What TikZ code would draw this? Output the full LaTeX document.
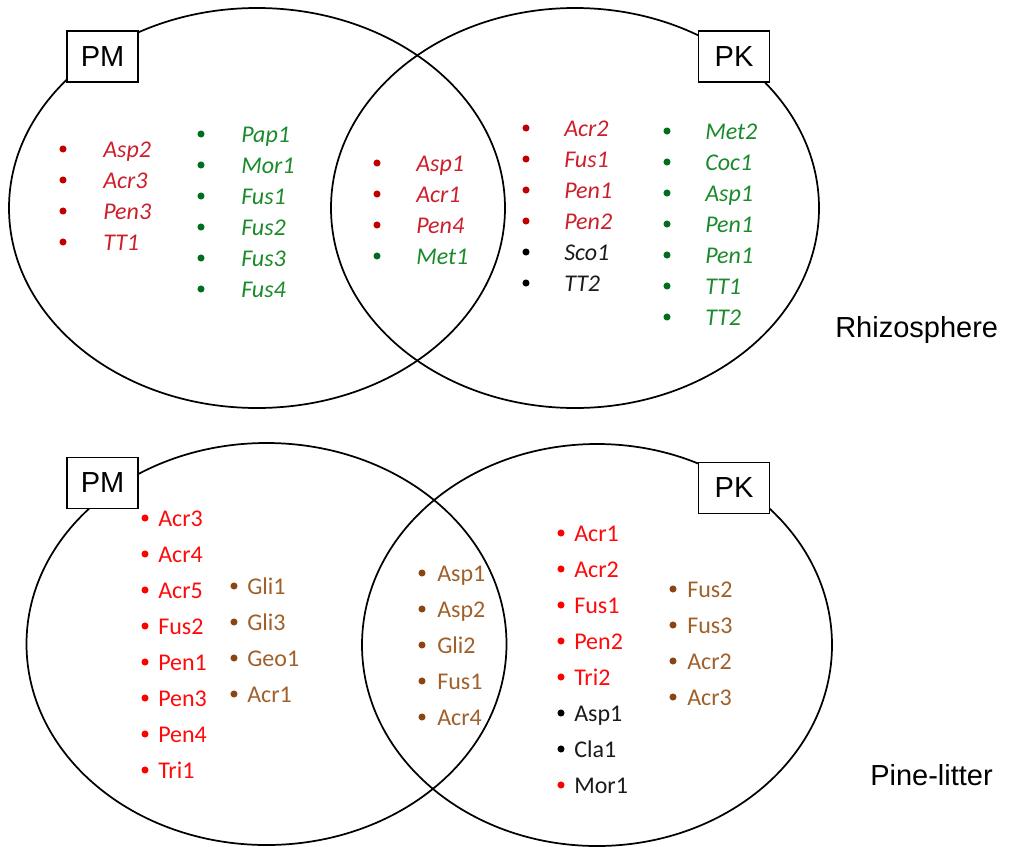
\documentclass[tikz,border=0pt]{standalone}
\usepackage{fontspec}
\setmainfont{Liberation Sans}
\newfontfamily\itemfont{Carlito}
\definecolor{rAd}{HTML}{C00000}
\definecolor{rAt}{HTML}{CC1F2C}
\definecolor{gAd}{HTML}{006E1E}
\definecolor{gAt}{HTML}{1A8A2A}
\definecolor{kd}{HTML}{000000}
\definecolor{kt}{HTML}{1A1A1A}
\definecolor{rBd}{HTML}{FF0000}
\definecolor{rBt}{HTML}{FF0A0A}
\definecolor{bBd}{HTML}{8B4513}
\definecolor{bBt}{HTML}{A0602A}
\begin{document}
\begin{tikzpicture}[x=0.75pt,y=-0.75pt,
  venn/.style={draw=black,line width=1.3pt},
  tag/.style={draw=black,fill=white,line width=1.3pt,minimum width=53.25pt,minimum height=38.25pt,inner sep=0pt,font=\fontsize{21.75}{24}\selectfont},
  dot/.style={circle,inner sep=0pt,minimum size=5.3pt},
  itm/.style={anchor=base west,inner sep=0pt,font=\itemfont\fontsize{18}{20}\selectfont},
  itI/.style={anchor=base west,inner sep=0pt,font=\itemfont\itshape\fontsize{18}{20}\selectfont},
  side/.style={anchor=base west,inner sep=0pt,font=\fontsize{21.75}{24}\selectfont}]
\useasboundingbox (0,0) rectangle (1016,846);
% --- Rhizosphere ---
\draw[venn] (257,208) ellipse [x radius=248, y radius=200];
\draw[venn] (575,208) ellipse [x radius=244, y radius=200];
\node[tag] (pm1) at (102.5,56.5) {PM};
\node[tag] (pk1) at (734,56.5) {PK};
\node[side] (rh) at (835,337) {Rhizosphere};
\foreach \t/\cb/\ct [count=\i from 0] in {Asp2/rAd/rAt,Acr3/rAd/rAt,Pen3/rAd/rAt,TT1/rAd/rAt}{
  \node[dot,fill=\cb] (pa\i) at (63,{149+31*\i}) {};
  \node[itI,text=\ct] (ta\i) at (103,{157+31*\i}) {\t};}
\foreach \t/\cb/\ct [count=\i from 0] in {Pap1/gAd/gAt,Mor1/gAd/gAt,Fus1/gAd/gAt,Fus2/gAd/gAt,Fus3/gAd/gAt,Fus4/gAd/gAt}{
  \node[dot,fill=\cb] (pb\i) at (201,{134+31*\i}) {};
  \node[itI,text=\ct] (tb\i) at (241,{142+31*\i}) {\t};}
\foreach \t/\cb/\ct [count=\i from 0] in {Asp1/rAd/rAt,Acr1/rAd/rAt,Pen4/rAd/rAt,Met1/gAd/gAt}{
  \node[dot,fill=\cb] (pc\i) at (377,{163+31*\i}) {};
  \node[itI,text=\ct] (tc\i) at (416,{171+31*\i}) {\t};}
\foreach \t/\cb/\ct [count=\i from 0] in {Acr2/rAd/rAt,Fus1/rAd/rAt,Pen1/rAd/rAt,Pen2/rAd/rAt,Sco1/kd/kt,TT2/kd/kt}{
  \node[dot,fill=\cb] (pd\i) at (526,{128+31*\i}) {};
  \node[itI,text=\ct] (td\i) at (564,{136+31*\i}) {\t};}
\foreach \t/\cb/\ct [count=\i from 0] in {Met2/gAd/gAt,Coc1/gAd/gAt,Asp1/gAd/gAt,Pen1/gAd/gAt,Pen1/gAd/gAt,TT1/gAd/gAt,TT2/gAd/gAt}{
  \node[dot,fill=\cb] (pe\i) at (667,{131+31*\i}) {};
  \node[itI,text=\ct] (te\i) at (705,{139+31*\i}) {\t};}
% --- Pine-litter ---
\draw[venn] (266.5,644) ellipse [x radius=240, y radius=201];
\draw[venn] (597,645) ellipse [x radius=235, y radius=201];
\node[tag] (pm2) at (102.5,483) {PM};
\node[tag] (pk2) at (734,488) {PK};
\node[side] (pl) at (870,785) {Pine-litter};
\foreach \t/\cb/\ct [count=\i from 0] in {Acr3/rBd/rBt,Acr4/rBd/rBt,Acr5/rBd/rBt,Fus2/rBd/rBt,Pen1/rBd/rBt,Pen3/rBd/rBt,Pen4/rBd/rBt,Tri1/rBd/rBt}{
  \node[dot,fill=\cb] (pf\i) at (145,{518+36*\i}) {};
  \node[itm,text=\ct] (tf\i) at (158,{526+36*\i}) {\t};}
\foreach \t/\cb/\ct [count=\i from 0] in {Gli1/bBd/bBt,Gli3/bBd/bBt,Geo1/bBd/bBt,Acr1/bBd/bBt}{
  \node[dot,fill=\cb] (pg\i) at (234,{586+36*\i}) {};
  \node[itm,text=\ct] (tg\i) at (247,{594+36*\i}) {\t};}
\foreach \t/\cb/\ct [count=\i from 0] in {Asp1/bBd/bBt,Asp2/bBd/bBt,Gli2/bBd/bBt,Fus1/bBd/bBt,Acr4/bBd/bBt}{
  \node[dot,fill=\cb] (ph\i) at (422,{573+36*\i}) {};
  \node[itm,text=\ct] (th\i) at (437,{581+36*\i}) {\t};}
\foreach \t/\cb/\ct [count=\i from 0] in {Acr1/rBd/rBt,Acr2/rBd/rBt,Fus1/rBd/rBt,Pen2/rBd/rBt,Tri2/rBd/rBt,Asp1/kd/kt,Cla1/kd/kt,Mor1/rBd/kt}{
  \node[dot,fill=\cb] (pi\i) at (561,{533+36*\i}) {};
  \node[itm,text=\ct] (ti\i) at (574,{541+36*\i}) {\t};}
\foreach \t/\cb/\ct [count=\i from 0] in {Fus2/bBd/bBt,Fus3/bBd/bBt,Acr2/bBd/bBt,Acr3/bBd/bBt}{
  \node[dot,fill=\cb] (pj\i) at (673,{589+36*\i}) {};
  \node[itm,text=\ct] (tj\i) at (687,{597+36*\i}) {\t};}
\end{tikzpicture}
\end{document}
